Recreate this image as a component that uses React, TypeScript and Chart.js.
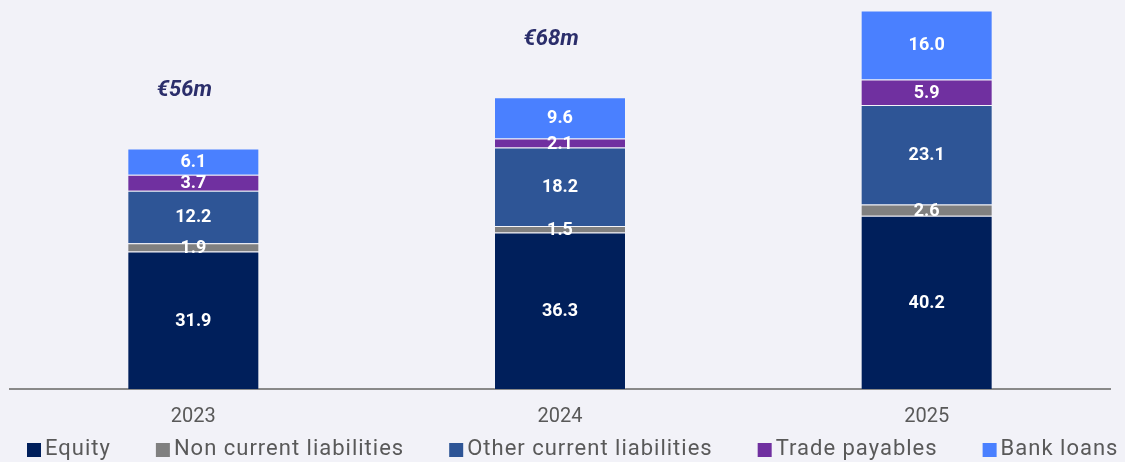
import React, { useEffect, useRef } from "react";
import { Chart, registerables } from "chart.js";

Chart.register(...registerables);

const categories = ["2023", "2024", "2025"];
const equity = [31.9, 36.3, 40.2];
const nonCurrent = [1.9, 1.5, 2.6];
const otherCurrent = [12.2, 18.2, 23.1];
const tradePayables = [3.7, 2.1, 5.9];
const bankLoans = [6.1, 9.6, 16.0];
const totalLabels = ["€56m", "€68m", ""];

const seriesNames = ["Equity", "Non current liabilities", "Other current liabilities", "Trade payables", "Bank loans"];
const seriesColors = ["#001F5B", "#808080", "#2E5596", "#7030A0", "#4A80FF"];

const BG = "#F2F2F8";
const FONT = "Roboto, 'Noto Sans', sans-serif";

const bgPlugin = {
  id: "bg",
  beforeDraw(chart: any) {
    const { ctx, width, height } = chart;
    ctx.save();
    ctx.fillStyle = BG;
    ctx.fillRect(0, 0, width, height);
    ctx.restore();
  },
};

const labelPlugin = {
  id: "segLabels",
  afterDatasetsDraw(chart: any) {
    const { ctx } = chart;
    ctx.save();
    ctx.fillStyle = "#FFFFFF";
    ctx.font = `bold 18px ${FONT}`;
    ctx.textAlign = "center";
    ctx.textBaseline = "middle";
    chart.data.datasets.forEach((ds: any, di: number) => {
      const meta = chart.getDatasetMeta(di);
      meta.data.forEach((el: any, i: number) => {
        const v = ds.data[i];
        ctx.fillText(v.toFixed(1), el.x, (el.y + el.base) / 2 + 1);
      });
    });
    const lastMeta = chart.getDatasetMeta(chart.data.datasets.length - 1);
    ctx.fillStyle = "#2B2E6B";
    ctx.font = `italic bold 22px ${FONT}`;
    lastMeta.data.forEach((el: any, i: number) => {
      const t = totalLabels[i];
      if (t) ctx.fillText(t, el.x - 9, el.y - 58);
    });
    ctx.restore();
  },
};

const legendPlugin = {
  id: "customLegend",
  afterDraw(chart: any) {
    const { ctx } = chart;
    ctx.save();
    ctx.font = `22px ${FONT}`;
    (ctx as any).letterSpacing = "1px";
    ctx.textAlign = "left";
    ctx.textBaseline = "middle";
    const y = 449;
    const box = 14;
    const gap = 4;
    const itemGap = 45;
    let x = 27;
    chart.data.datasets.forEach((ds: any) => {
      ctx.fillStyle = ds.backgroundColor;
      ctx.fillRect(x, y - box / 2 + 1, box, box);
      ctx.fillStyle = "#595959";
      ctx.fillText(ds.label, x + box + gap, y);
      const w = ctx.measureText(ds.label).width;
      x += box + gap + w + itemGap;
    });
    ctx.restore();
  },
};

export default function App() {
  const ref = useRef<HTMLCanvasElement | null>(null);
  useEffect(() => {
    document.body.style.margin = "0";
    const seriesData = [equity, nonCurrent, otherCurrent, tradePayables, bankLoans];
    const chart = new Chart(ref.current as HTMLCanvasElement, {
      type: "bar",
      data: {
        labels: categories,
        datasets: seriesData.map((d, i) => ({
          label: seriesNames[i],
          data: d,
          backgroundColor: seriesColors[i],
          borderColor: "rgba(255,255,255,0.12)",
          borderWidth: 1,
          barPercentage: 0.72,
          categoryPercentage: 0.5,
        })),
      },
      options: {
        animation: false,
        responsive: false,
        maintainAspectRatio: false,
        layout: { padding: { top: 1, left: 10, right: 15, bottom: 17 } },
        scales: {
          x: {
            stacked: true,
            grid: { display: false, drawTicks: false },
            border: { display: true, color: "#898989", width: 2 },
            ticks: { color: "#595959", font: { family: FONT, size: 20 }, padding: 16 },
          },
          y: {
            stacked: true,
            display: false,
            min: 0,
            max: 90,
          },
        },
        plugins: {
          legend: { display: false },
          tooltip: { enabled: false },
        },
      },
      plugins: [bgPlugin, labelPlugin, legendPlugin],
    });
    return () => chart.destroy();
  }, []);
  return (
    <div style={{ position: "absolute", left: 0, top: 0, width: 1125, height: 462 }}>
      <canvas ref={ref} width={1125} height={462} style={{ width: 1125, height: 462 }} />
    </div>
  );
}
